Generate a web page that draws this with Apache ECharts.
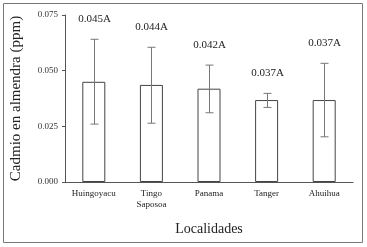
<!DOCTYPE html>
<html>
<head>
<meta charset="utf-8">
<script src="https://cdn.jsdelivr.net/npm/echarts@6/dist/echarts.min.js"></script>
<style>
  html, body { margin: 0; padding: 0; background: #fff; }
  #chart { width: 367px; height: 247px; }
</style>
</head>
<body>
<div id="chart"></div>
<script>
var categories = ['Huingoyacu', 'Tingo\nSaposoa', 'Panama', 'Tanger', 'Ahuihua']
var means = [0.045, 0.0436, 0.0419, 0.0368, 0.0368]
var errLow = [0.026, 0.0264, 0.0311, 0.0335, 0.0203]
var errHigh = [0.0641, 0.0605, 0.0525, 0.0398, 0.0533]
var meanLabels = ['0.045A', '0.044A', '0.042A', '0.037A', '0.037A']

var font = 'Liberation Serif, Times New Roman, serif'
var chart = echarts.init(document.getElementById('chart'))

chart.setOption({
  animation: false,
  graphic: [{
    type: 'rect',
    shape: { x: 3.5, y: 3.5, width: 359, height: 239 },
    style: { fill: 'none', stroke: '#777', lineWidth: 1 },
    silent: true
  }],
  grid: { left: 65, right: 14, top: 15, bottom: 65 },
  xAxis: {
    type: 'category',
    data: categories,
    name: 'Localidades',
    nameLocation: 'middle',
    nameGap: 40,
    nameTextStyle: { fontFamily: font, fontSize: 14, color: '#222' },
    axisLine: { lineStyle: { color: '#555' } },
    axisTick: { show: false },
    axisLabel: { interval: 0, fontFamily: font, fontSize: 9, color: '#222', margin: 6, lineHeight: 11 }
  },
  yAxis: {
    type: 'value',
    min: 0,
    max: 0.075,
    interval: 0.025,
    name: 'Cadmio en almendra (ppm)',
    nameLocation: 'middle',
    nameGap: 41,
    nameTextStyle: { fontFamily: font, fontSize: 15, color: '#222' },
    axisLine: { show: true, lineStyle: { color: '#555' } },
    axisTick: { show: true, length: 3, lineStyle: { color: '#555' } },
    splitLine: { show: false },
    axisLabel: {
      fontFamily: font, fontSize: 9, color: '#333', margin: 7,
      formatter: function (v) { return v.toFixed(3) }
    }
  },
  series: [{
    type: 'bar',
    data: means,
    barWidth: 23,
    itemStyle: { color: '#fff', borderColor: '#444', borderWidth: 1 }
  }, {
    type: 'custom',
    data: means.map(function (m, i) { return [i, errLow[i], errHigh[i]] }),
    renderItem: function (params, api) {
      var i = api.value(0)
      var lo = api.coord([i, api.value(1)])
      var hi = api.coord([i, api.value(2)])
      var x = Math.round(lo[0]) + 0.5
      var w = 4
      var st = { stroke: '#777', lineWidth: 1 }
      return {
        type: 'group',
        children: [
          { type: 'line', shape: { x1: x, y1: hi[1], x2: x, y2: lo[1] }, style: st },
          { type: 'line', shape: { x1: x - w, y1: hi[1], x2: x + w, y2: hi[1] }, style: st },
          { type: 'line', shape: { x1: x - w, y1: lo[1], x2: x + w, y2: lo[1] }, style: st },
          {
            type: 'text',
            style: {
              x: x, y: hi[1] - 20, text: meanLabels[i],
              fontFamily: font, fontSize: 11, fill: '#222',
              align: 'center', verticalAlign: 'middle'
            }
          }
        ]
      }
    },
    z: 5
  }]
})
</script>
</body>
</html>
